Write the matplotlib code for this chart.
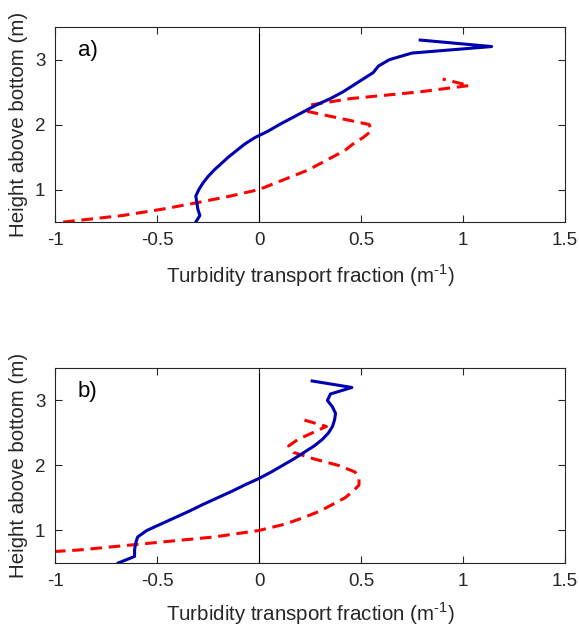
import matplotlib
matplotlib.use('Agg')
import matplotlib.pyplot as plt

plt.rcParams['font.family'] = ['Liberation Sans', 'DejaVu Sans']
plt.rcParams['mathtext.fontset'] = 'custom'
plt.rcParams['mathtext.rm'] = 'Liberation Sans'

# heights above bottom (m)
height = [0.5, 0.6, 0.7, 0.8, 0.9, 1.0, 1.1, 1.2, 1.3, 1.4, 1.5, 1.6, 1.7, 1.8, 1.9,
          2.0, 2.1, 2.2, 2.3, 2.4, 2.5, 2.6, 2.7, 2.8, 2.9, 3.0, 3.1, 3.2, 3.3]
height_red = height[:23]  # dashed profile stops at 2.7 m

# panel a)
blue_a = [-0.31, -0.29, -0.30, -0.305, -0.31, -0.295, -0.275, -0.25, -0.22, -0.185, -0.15,
          -0.11, -0.07, -0.02, 0.045, 0.10, 0.16, 0.22, 0.28, 0.35, 0.41, 0.46, 0.51, 0.56,
          0.585, 0.64, 0.75, 1.14, 0.79]
red_a = [-0.96, -0.67, -0.47, -0.30, -0.14, 0.0, 0.08, 0.16, 0.24, 0.30, 0.36, 0.42, 0.46,
         0.51, 0.55, 0.54, 0.39, 0.24, 0.25, 0.45, 0.78, 1.03, 0.90]

# panel b)
blue_b = [-0.69, -0.61, -0.61, -0.605, -0.595, -0.55, -0.48, -0.41, -0.34, -0.275, -0.205,
          -0.135, -0.07, 0.0, 0.06, 0.115, 0.17, 0.22, 0.27, 0.31, 0.34, 0.36, 0.37, 0.375,
          0.36, 0.335, 0.35, 0.455, 0.26]
red_b = [-2.2, -1.4, -0.88, -0.55, -0.22, 0.0, 0.13, 0.22, 0.30, 0.36, 0.42, 0.46, 0.49,
         0.49, 0.47, 0.39, 0.27, 0.17, 0.145, 0.19, 0.26, 0.33, 0.22]

panels = [('a)', blue_a, red_a), ('b)', blue_b, red_b)]
xticks = [-1, -0.5, 0, 0.5, 1, 1.5]
xticklabels = ['-1', '-0.5', '0', '0.5', '1', '1.5']

fig = plt.figure(figsize=(5.79, 6.29), dpi=100)
axes_pos = [[0.095, 0.647, 0.881, 0.310], [0.095, 0.105, 0.881, 0.310]]
grey = '#262626'

for i, (pos, (tag, blue, red)) in enumerate(zip(axes_pos, panels)):
    ax = fig.add_axes(pos)
    ax.plot([0, 0], [0.5, 3.4], color='black', lw=0.8)
    ax.plot(red, height_red, color='red', lw=2.2, dashes=(3.8, 2.2))
    ax.plot(blue, height, color='#0000B0', lw=2.2)
    ax.set_xlim(-1, 1.5)
    ax.set_ylim(0.5, 3.5)
    ax.set_xticks(xticks)
    ax.set_xticklabels(xticklabels)
    ax.set_yticks([1, 2, 3])
    ax.tick_params(direction='in', top=True, right=True, length=5, width=0.8,
                   labelsize=13.5, colors=grey, pad=7)
    for s in ax.spines.values():
        s.set_color(grey)
        s.set_linewidth(0.8)
    # bottom panel label sits a little higher so it is not clipped
    ax.set_xlabel('Turbidity transport fraction (m$^{\\text{-1}}$)', fontsize=14.8,
                  color=grey, labelpad=10 if i == 0 else 8)
    ax.set_ylabel('Height above bottom (m)', fontsize=14.8, color=grey, labelpad=5)
    ax.text(0.045, 0.88, tag, transform=ax.transAxes, fontsize=16, va='center', ha='left')

fig.savefig('out.png', dpi=100)
